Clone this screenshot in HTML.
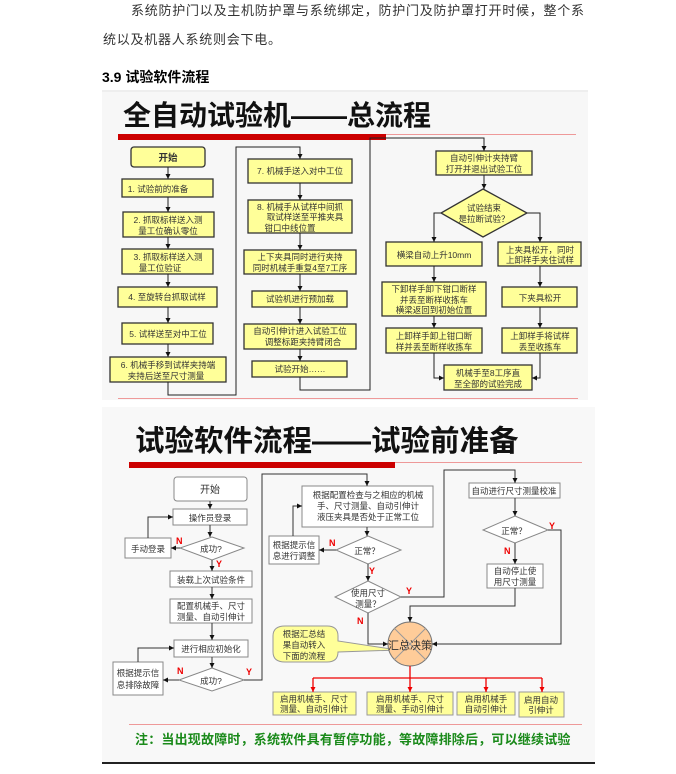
<!DOCTYPE html>
<html><head><meta charset="utf-8"><style>
body{margin:0;background:#fff;width:676px;height:774px;overflow:hidden}
svg{display:block}
text{font-family:"Liberation Sans","Noto Sans CJK SC",sans-serif}
</style></head><body>
<svg width="676" height="774" viewBox="0 0 676 774" xmlns="http://www.w3.org/2000/svg">
<defs>
<marker id="a" markerWidth="6" markerHeight="6" refX="5" refY="3" orient="auto" markerUnits="userSpaceOnUse"><path d="M0,0.5 L5,3 L0,5.5z" fill="#111"/></marker>
<marker id="r" markerWidth="6" markerHeight="6" refX="5" refY="3" orient="auto" markerUnits="userSpaceOnUse"><path d="M0,0.5 L5,3 L0,5.5z" fill="#e00"/></marker>
</defs>
<text x="131" y="15" font-size="13" letter-spacing="0.75" fill="#333">系统防护门以及主机防护罩与系统绑定，防护门及防护罩打开时候，整个系</text>
<text x="103" y="44" font-size="13" letter-spacing="0.75" fill="#333">统以及机器人系统则会下电。</text>
<text x="102" y="82" font-size="14" font-weight="bold" fill="#000">3.9  试验软件流程</text>
<rect x="102" y="90" width="486" height="2" fill="#eee"/>

<rect x="102" y="92" width="486" height="308" fill="#f7f7f7"/>
<text x="123" y="125" font-size="28" font-weight="bold" fill="#111">全自动试验机——总流程</text>
<rect x="118" y="134" width="268" height="6" fill="#c00"/>
<rect x="386" y="134" width="190" height="1" fill="#e99"/>
<rect x="118" y="398" width="460" height="1" fill="#e99"/>
<g fill="#ffff99" stroke="#333" stroke-width="1.3">
<rect x="131" y="147" width="74" height="20" rx="3"/>
<rect x="122" y="179" width="91" height="18"/>
<rect x="123" y="212" width="91" height="25"/>
<rect x="122" y="249" width="91" height="25"/>
<rect x="118" y="287" width="99" height="20"/>
<rect x="122" y="323" width="91" height="21"/>
<rect x="110" y="357" width="116" height="25"/>
<rect x="248" y="159" width="104" height="24"/>
<rect x="248" y="200" width="104" height="33"/>
<rect x="244" y="250" width="112" height="24"/>
<rect x="252" y="291" width="95" height="16"/>
<rect x="244" y="324" width="112" height="25"/>
<rect x="252" y="361" width="95" height="16"/>
<rect x="436" y="151" width="96" height="24"/>
<path d="M483,189 L527,213 L483,237 L441,213z"/>
<rect x="386" y="242" width="96" height="24"/>
<rect x="498" y="242" width="83" height="24"/>
<rect x="382" y="282" width="104" height="34"/>
<rect x="502" y="287" width="75" height="20"/>
<rect x="386" y="328" width="96" height="25"/>
<rect x="502" y="328" width="75" height="25"/>
<rect x="444" y="365" width="88" height="25"/>
</g>
<g stroke="#222" stroke-width="1" fill="none" marker-end="url(#a)">
<path d="M168,167V179"/><path d="M168,197V212"/><path d="M168,237V249"/><path d="M168,274V287"/><path d="M168,307V323"/><path d="M168,344V357"/>
<path d="M168,382V395H236V147H300V159"/>
<path d="M300,183V200"/><path d="M300,233V250"/><path d="M300,274V291"/><path d="M300,307V324"/><path d="M300,349V361"/>
<path d="M300,377V390H370V138H484V151"/>
<path d="M484,175V189"/>
<path d="M441,213H434V242"/><path d="M527,213H540V242"/>
<path d="M434,266V282"/><path d="M434,316V328"/><path d="M540,266V287"/><path d="M540,307V328"/>
<path d="M434,353V378H444"/><path d="M540,353V378H532"/>
</g>
<g font-size="8.5" fill="#333" text-anchor="middle">
<text x="168" y="161" font-size="9.5" font-weight="bold">开始</text>
<text x="158" y="192">1. 试验前的准备</text>
<text x="168" y="223">2. 抓取标样送入测</text><text x="168" y="234">量工位确认零位</text>
<text x="168" y="260">3. 抓取标样送入测</text><text x="160" y="271">量工位验证</text>
<text x="167" y="300">4. 至旋转台抓取试样</text>
<text x="168" y="337">5. 试样送至对中工位</text>
<text x="168" y="368">6. 机械手移到试样夹持端</text><text x="166" y="379">夹持后送至尺寸测量</text>
<text x="300" y="174">7. 机械手送入对中工位</text>
<text x="300" y="210">8. 机械手从试样中间抓</text><text x="305" y="220">取试样送至平推夹具</text><text x="290" y="231">钳口中线位置</text>
<text x="300" y="260">上下夹具同时进行夹持</text><text x="300" y="271">同时机械手重复4至7工序</text>
<text x="300" y="302">试验机进行预加载</text>
<text x="300" y="334">自动引伸计进入试验工位</text><text x="303" y="345">调整标距夹持臂闭合</text>
<text x="300" y="372">试验开始……</text>
<text x="484" y="161">自动引伸计夹持臂</text><text x="484" y="172">打开并退出试验工位</text>
<text x="484" y="211">试验结束</text><text x="484" y="222">是拉断试验？</text>
<text x="434" y="258">横梁自动上升10mm</text>
<text x="540" y="253">上夹具松开，同时</text><text x="540" y="263">上卸样手夹住试样</text>
<text x="434" y="292">下卸样手卸下钳口断样</text><text x="434" y="303">并丢至断样收拣车</text><text x="434" y="313">横梁返回到初始位置</text>
<text x="540" y="301">下夹具松开</text>
<text x="434" y="339">上卸样手卸上钳口断</text><text x="434" y="350">样并丢至断样收拣车</text>
<text x="540" y="339">上卸样手将试样</text><text x="540" y="350">丢至收拣车</text>
<text x="488" y="376">机械手至8工序直</text><text x="488" y="387">至全部的试验完成</text>
</g>

<rect x="102" y="407" width="493" height="356" fill="#f8f8f8"/>
<text x="135" y="451" font-size="29.5" font-weight="bold" fill="#111">试验软件流程——试验前准备</text>
<rect x="129" y="462" width="266" height="6" fill="#c00"/>
<rect x="395" y="462" width="187" height="1" fill="#e99"/>
<rect x="129" y="724" width="453" height="1" fill="#e99"/>
<rect x="102" y="762" width="493" height="2" fill="#222"/>
<g fill="#fff" stroke="#888" stroke-width="1">
<rect x="174" y="477" width="73" height="24" rx="3"/>
<rect x="173" y="509" width="74" height="16"/>
<path d="M212,537 L244,548 L212,560 L180,548z"/>
<rect x="125" y="538" width="46" height="20"/>
<rect x="170" y="571" width="82" height="16"/>
<rect x="170" y="599" width="82" height="24"/>
<rect x="174" y="640" width="74" height="17"/>
<path d="M212,668 L244,680 L212,691 L179,680z"/>
<rect x="113" y="662" width="50" height="33"/>
<rect x="302" y="486" width="131" height="41"/>
<path d="M368,536 L401,550 L368,564 L336,550z"/>
<rect x="269" y="536" width="50" height="28"/>
<path d="M368,581 L401,597 L368,613 L335,597z"/>
<rect x="469" y="483" width="91" height="15"/>
<path d="M515,516 L548,530 L515,543 L483,530z"/>
<rect x="487" y="564" width="56" height="24"/>
</g>
<g fill="#ffff99" stroke="#999" stroke-width="1">
<rect x="273" y="692" width="83" height="23"/>
<rect x="367" y="692" width="86" height="23"/>
<rect x="457" y="692" width="58" height="23"/>
<rect x="519" y="692" width="45" height="25"/>
<path d="M285,626 H327 Q338,626 338,636 V641 L398,650 L338,652 Q338,662 327,662 H285 Q273,662 273,652 V636 Q273,626 285,626z"/>
</g>
<circle cx="410" cy="644" r="22" fill="#fc9" stroke="#777"/>
<path d="M394,628 L426,660 M426,628 L394,660" stroke="#999" stroke-width="1"/>
<g stroke="#333" stroke-width="1" fill="none" marker-end="url(#a)">
<path d="M210,501V509"/><path d="M210,525V537"/><path d="M180,548H171"/><path d="M148,538V517H173"/>
<path d="M212,560V571"/><path d="M212,587V599"/><path d="M212,623V640"/><path d="M212,657V668"/>
<path d="M179,680H163"/><path d="M138,662V648H174"/>
<path d="M244,680H262V474H367V486"/>
<path d="M367,527V536"/><path d="M336,550H319"/><path d="M293,536V506H302"/>
<path d="M368,564V581"/>
<path d="M401,597H444V470H515V483"/>
<path d="M368,613V644H388"/>
<path d="M515,498V516"/><path d="M515,543V564"/>
<path d="M515,588V606H410V622"/>
<path d="M548,530H561V644H432"/>
</g>
<g stroke="#e00" stroke-width="1.3" fill="none">
<path d="M410,666V678"/><path d="M313,678H542"/>
<path d="M313,678V692" marker-end="url(#r)"/><path d="M410,678V692" marker-end="url(#r)"/><path d="M486,678V692" marker-end="url(#r)"/><path d="M542,678V692" marker-end="url(#r)"/>
</g>
<g font-size="9" font-weight="bold" fill="#e00">
<text x="176" y="544">N</text><text x="216" y="567">Y</text>
<text x="177" y="674">N</text><text x="246" y="675">Y</text>
<text x="329" y="546">N</text><text x="369" y="574">Y</text>
<text x="406" y="594">Y</text><text x="357" y="624">N</text>
<text x="549" y="529">Y</text><text x="504" y="554">N</text>
</g>
<g font-size="8.5" fill="#333" text-anchor="middle">
<text x="210" y="493" font-size="10">开始</text>
<text x="210" y="521">操作员登录</text>
<text x="211" y="552">成功?</text>
<text x="148" y="552">手动登录</text>
<text x="211" y="583">装载上次试验条件</text>
<text x="211" y="609">配置机械手、尺寸</text><text x="211" y="620">测量、自动引伸计</text>
<text x="211" y="652">进行相应初始化</text>
<text x="211" y="684">成功?</text>
<text x="138" y="676">根据提示信</text><text x="138" y="688">息排除故障</text>
<text x="368" y="498">根据配置检查与之相应的机械</text><text x="368" y="509">手、尺寸测量、自动引伸计</text><text x="368" y="520">液压夹具是否处于正常工位</text>
<text x="367" y="554">正常？</text>
<text x="294" y="548">根据提示信</text><text x="294" y="559">息进行调整</text>
<text x="368" y="596">使用尺寸</text><text x="368" y="607">测量？</text>
<text x="514" y="494">自动进行尺寸测量校准</text>
<text x="514" y="534">正常？</text>
<text x="515" y="574">自动停止使</text><text x="515" y="585">用尺寸测量</text>
<text x="410" y="649" font-size="11">汇总决策</text>
<text x="304" y="637">根据汇总结</text><text x="304" y="648">果自动转入</text><text x="304" y="659">下面的流程</text>
<text x="314" y="702">启用机械手、尺寸</text><text x="314" y="712">测量、自动引伸计</text>
<text x="410" y="702">启用机械手、尺寸</text><text x="410" y="712">测量、手动引伸计</text>
<text x="486" y="702">启用机械手</text><text x="486" y="712">自动引伸计</text>
<text x="541" y="703">启用自动</text><text x="541" y="713">引伸计</text>
</g>
<text x="135" y="744" font-size="13" letter-spacing="0.2" font-weight="bold" fill="#1a8a1a">注：当出现故障时，系统软件具有暂停功能，等故障排除后，可以继续试验</text>
</svg>
</body></html>
